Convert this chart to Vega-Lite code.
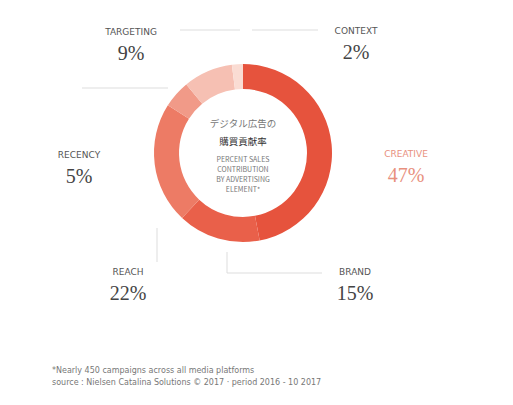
{
  "$schema": "https://vega.github.io/schema/vega-lite/v6.json",
  "width": 513,
  "height": 405,
  "padding": 0,
  "autosize": {"type": "fit", "contains": "padding"},
  "background": "white",
  "config": {"view": {"stroke": null}},
  "datasets": {
    "segments": [
      {"category": "CREATIVE", "value": 47, "order": 1},
      {"category": "BRAND", "value": 15, "order": 2},
      {"category": "REACH", "value": 22, "order": 3},
      {"category": "RECENCY", "value": 5, "order": 4},
      {"category": "TARGETING", "value": 9, "order": 5},
      {"category": "CONTEXT", "value": 2, "order": 6}
    ],
    "labels": [
      {"name": "TARGETING", "pct": "9%", "x": 131, "y": 32, "hl": "no"},
      {"name": "CONTEXT", "pct": "2%", "x": 356, "y": 31, "hl": "no"},
      {"name": "CREATIVE", "pct": "47%", "x": 406, "y": 154, "hl": "yes"},
      {"name": "RECENCY", "pct": "5%", "x": 79, "y": 155, "hl": "no"},
      {"name": "REACH", "pct": "22%", "x": 128, "y": 272, "hl": "no"},
      {"name": "BRAND", "pct": "15%", "x": 355, "y": 272, "hl": "no"}
    ],
    "leaders": [
      {"x": 180, "y": 30, "x2": 240, "y2": 30},
      {"x": 252, "y": 30, "x2": 318, "y2": 30},
      {"x": 82, "y": 88, "x2": 168, "y2": 88},
      {"x": 227, "y": 252, "x2": 227, "y2": 273},
      {"x": 227, "y": 273, "x2": 322, "y2": 273},
      {"x": 157, "y": 228, "x2": 157, "y2": 262}
    ],
    "center": [
      {"t": "デジタル広告の", "x": 243, "y": 124, "k": "jp1"},
      {"t": "購買貢献率", "x": 243, "y": 142, "k": "jp2"},
      {"t": "PERCENT SALES", "x": 243, "y": 160, "k": "en"},
      {"t": "CONTRIBUTION", "x": 243, "y": 170, "k": "en"},
      {"t": "BY ADVERTISING", "x": 243, "y": 180, "k": "en"},
      {"t": "ELEMENT*", "x": 243, "y": 190, "k": "en"}
    ],
    "notes": [
      {"t": "*Nearly 450 campaigns across all media platforms", "x": 52, "y": 371},
      {"t": "source : Nielsen Catalina Solutions © 2017 · period 2016 - 10 2017", "x": 52, "y": 383}
    ]
  },
  "layer": [
    {
      "data": {"name": "leaders"},
      "mark": {"type": "rule", "color": "#dddddd", "strokeWidth": 1},
      "encoding": {
        "x": {"field": "x", "type": "quantitative", "scale": {"domain": [0, 513], "nice": false, "zero": false}, "axis": null},
        "y": {"field": "y", "type": "quantitative", "scale": {"domain": [0, 405], "nice": false, "zero": false, "reverse": true}, "axis": null},
        "x2": {"field": "x2"},
        "y2": {"field": "y2"}
      }
    },
    {
      "data": {"name": "segments"},
      "mark": {"type": "arc", "radius": 89, "radius2": 64, "stroke": null},
      "encoding": {
        "x": {"datum": 243, "type": "quantitative", "scale": {"domain": [0, 513], "nice": false, "zero": false}, "axis": null},
        "y": {"datum": 153, "type": "quantitative", "scale": {"domain": [0, 405], "nice": false, "zero": false, "reverse": true}, "axis": null},
        "theta": {"field": "value", "type": "quantitative", "stack": true},
        "order": {"field": "order", "type": "quantitative"},
        "color": {
          "field": "category", "type": "nominal", "legend": null,
          "scale": {
            "domain": ["CREATIVE", "BRAND", "REACH", "RECENCY", "TARGETING", "CONTEXT"],
            "range": ["#e6533d", "#e9604a", "#ed7b65", "#f19a88", "#f6c0b3", "#fadcd3"]
          }
        }
      }
    },
    {
      "data": {"name": "labels"},
      "mark": {"type": "text", "font": "DejaVu Sans", "fontSize": 9, "align": "center", "baseline": "middle"},
      "encoding": {
        "x": {"field": "x", "type": "quantitative"},
        "y": {"field": "y", "type": "quantitative"},
        "text": {"field": "name"},
        "color": {"condition": {"test": "datum.hl == 'yes'", "value": "#e8907e"}, "value": "#555555"}
      }
    },
    {
      "data": {"name": "labels"},
      "transform": [{"calculate": "datum.y + 22", "as": "py"}],
      "mark": {"type": "text", "font": "Liberation Serif", "fontSize": 20, "align": "center", "baseline": "middle"},
      "encoding": {
        "x": {"field": "x", "type": "quantitative"},
        "y": {"field": "py", "type": "quantitative"},
        "text": {"field": "pct"},
        "color": {"condition": {"test": "datum.hl == 'yes'", "value": "#e8907e"}, "value": "#444444"}
      }
    },
    {
      "data": {"name": "center"},
      "mark": {"type": "text", "align": "center", "baseline": "middle", "font": "Noto Sans CJK JP"},
      "encoding": {
        "x": {"field": "x", "type": "quantitative"},
        "y": {"field": "y", "type": "quantitative"},
        "text": {"field": "t"},
        "size": {"condition": {"test": "datum.k == 'en'", "value": 7}, "value": 9.5},
        "color": {"condition": {"test": "datum.k == 'jp2'", "value": "#333333"}, "value": "#777777"},
        "fontWeight": {"condition": {"test": "datum.k == 'jp2'", "value": "bold"}, "value": "normal"}
      }
    },
    {
      "data": {"name": "notes"},
      "mark": {"type": "text", "align": "left", "baseline": "middle", "font": "DejaVu Sans", "fontSize": 8, "color": "#777777"},
      "encoding": {
        "x": {"field": "x", "type": "quantitative"},
        "y": {"field": "y", "type": "quantitative"},
        "text": {"field": "t"}
      }
    }
  ]
}
